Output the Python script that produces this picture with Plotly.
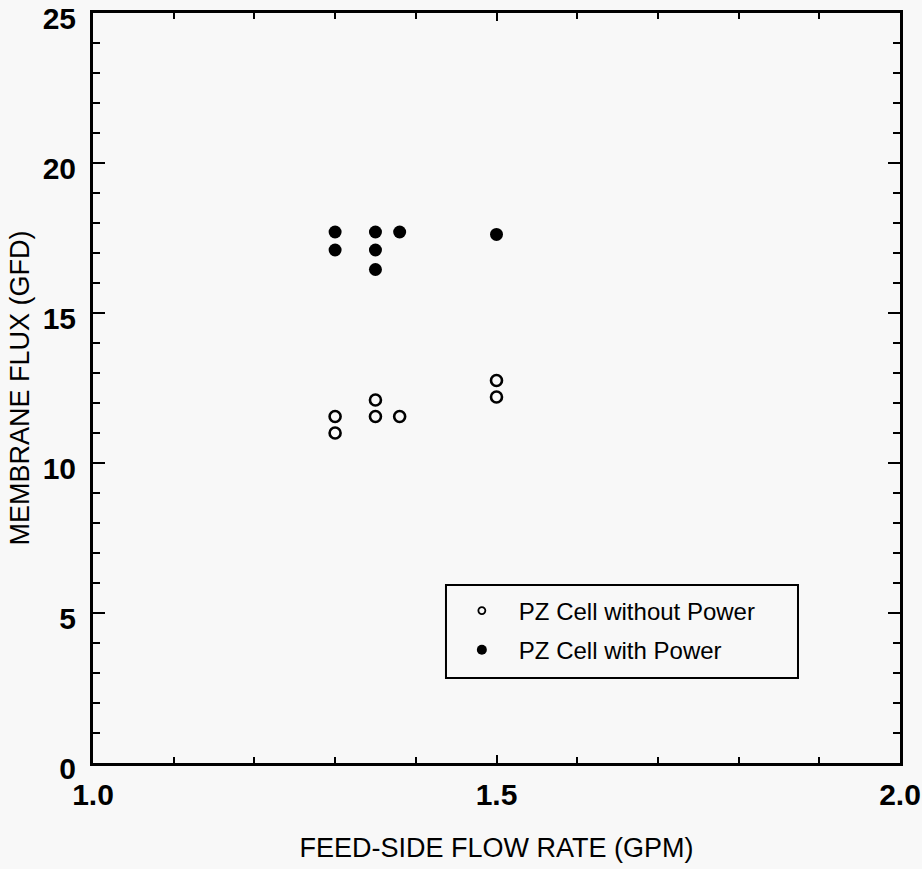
import plotly.graph_objects as go

# Data
x_without = [1.30, 1.30, 1.35, 1.35, 1.38, 1.50, 1.50]
y_without = [11.55, 11.0, 12.1, 11.55, 11.55, 12.75, 12.2]

x_with = [1.30, 1.30, 1.35, 1.35, 1.35, 1.38, 1.50]
y_with = [17.7, 17.1, 17.7, 17.1, 16.45, 17.7, 17.62]

label_without = "PZ Cell without Power"
label_with = "PZ Cell with Power"

x_title = "FEED-SIDE FLOW RATE (GPM)"
y_title = "MEMBRANE FLUX (GFD)"

x_tickvals = [1.0, 1.5, 2.0]
x_ticktext = ["1.0", "1.5", "2.0"]
y_tickvals = [0, 5, 10, 15, 20, 25]

BG = "#f8f8f8"
FONT = "Liberation Sans, Arial, sans-serif"

fig = go.Figure()

# data traces
fig.add_trace(go.Scatter(
    x=x_without, y=y_without, mode="markers", showlegend=False,
    marker=dict(symbol="circle-open", size=11, color="black",
                line=dict(width=2.6, color="black")),
))
fig.add_trace(go.Scatter(
    x=x_with, y=y_with, mode="markers", showlegend=False,
    marker=dict(symbol="circle", size=13, color="black",
                line=dict(width=0)),
))

# legend-only traces (smaller symbols as in the reference legend)
fig.add_trace(go.Scatter(
    x=[None], y=[None], mode="markers", name=label_without, legendgroup="a",
    marker=dict(symbol="circle-open", size=7, color="black",
                line=dict(width=1.8, color="black")),
))
fig.add_trace(go.Scatter(
    x=[None], y=[None], mode="markers", name=label_with, legendgroup="b",
    marker=dict(symbol="circle", size=10, color="black"),
))

axis_common = dict(
    showline=True, linewidth=3, linecolor="black", mirror="ticks",
    showgrid=False, zeroline=False, ticks="inside", tickcolor="black",
    tickwidth=2, automargin=False,
)

fig.update_xaxes(
    range=[1.0, 2.0], tickvals=x_tickvals, ticktext=x_ticktext,
    ticklen=8,
    minor=dict(dtick=0.1, ticks="inside", ticklen=6, tickwidth=2,
               tickcolor="black", showgrid=False),
    tickfont=dict(family=FONT, size=30, color="black", weight="bold"),
    ticklabelstandoff=3,
    title=dict(text=x_title, font=dict(family=FONT, size=27, color="black"),
               standoff=29),
    **axis_common,
)
fig.update_yaxes(
    range=[0, 25], tickvals=y_tickvals,
    ticklen=12,
    minor=dict(dtick=1, ticks="inside", ticklen=7, tickwidth=2,
               tickcolor="black", showgrid=False),
    tickfont=dict(family=FONT, size=30, color="black", weight="bold"),
    ticklabelstandoff=8, ticklabelshift=5,
    title=dict(text=y_title, font=dict(family=FONT, size=27, color="black"),
               standoff=6),
    **axis_common,
)

# legend box
fig.add_shape(type="rect", xref="paper", yref="paper",
              x0=0.4374, x1=0.8736, y0=0.1133, y1=0.2373,
              line=dict(color="black", width=2), fillcolor="rgba(0,0,0,0)")

fig.update_layout(
    width=922, height=869,
    margin=dict(l=93, r=22, t=13, b=106),
    paper_bgcolor=BG, plot_bgcolor=BG,
    font=dict(family=FONT, color="black"),
    legend=dict(
        x=0.436, y=0.2327, xanchor="left", yanchor="top",
        bgcolor="rgba(0,0,0,0)", borderwidth=0,
        font=dict(family=FONT, size=24, color="black"),
        tracegroupgap=5, itemsizing="trace", itemwidth=64,
    ),
)

fig.write_html("out.html")
